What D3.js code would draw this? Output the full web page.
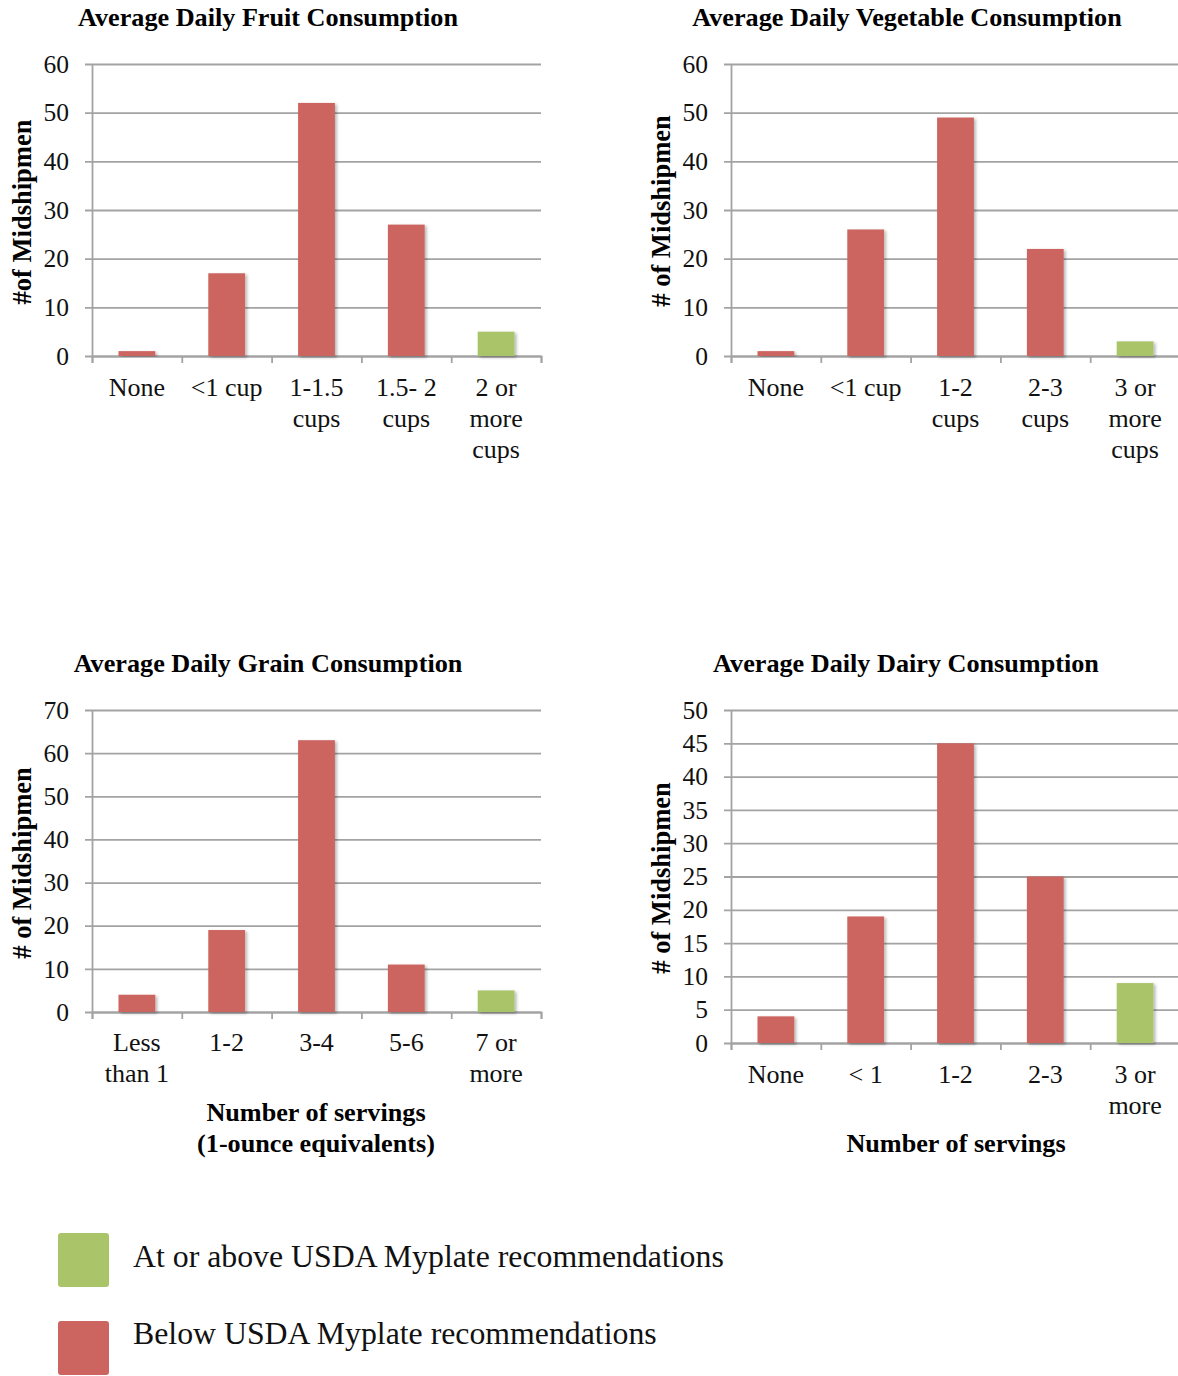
<!DOCTYPE html>
<html>
<head>
<meta charset="utf-8">
<script src="https://cdn.jsdelivr.net/npm/d3@7"></script>
<style>
  html, body { margin: 0; padding: 0; background: #fff; }
  svg { display: block; }
</style>
</head>
<body>
<svg id="chart" width="1178" height="1376"></svg>
<script>
// ---- data ----
const fruitCategories = ["None", "<1 cup", "1-1.5\ncups", "1.5- 2\ncups", "2 or\nmore\ncups"];
const fruitValues = [1, 17, 52, 27, 5];
const fruitStatus = ["below", "below", "below", "below", "meets"];
const fruitTicks = [0, 10, 20, 30, 40, 50, 60];

const vegCategories = ["None", "<1 cup", "1-2\ncups", "2-3\ncups", "3 or\nmore\ncups"];
const vegValues = [1, 26, 49, 22, 3];
const vegStatus = ["below", "below", "below", "below", "meets"];
const vegTicks = [0, 10, 20, 30, 40, 50, 60];

const grainCategories = ["Less\nthan 1", "1-2", "3-4", "5-6", "7 or\nmore"];
const grainValues = [4, 19, 63, 11, 5];
const grainStatus = ["below", "below", "below", "below", "meets"];
const grainTicks = [0, 10, 20, 30, 40, 50, 60, 70];

const dairyCategories = ["None", "< 1", "1-2", "2-3", "3 or\nmore"];
const dairyValues = [4, 19, 45, 25, 9];
const dairyStatus = ["below", "below", "below", "below", "meets"];
const dairyTicks = [0, 5, 10, 15, 20, 25, 30, 35, 40, 45, 50];

const legendStatus = ["meets", "below"];
const legendLabels = ["At or above USDA Myplate recommendations", "Below USDA Myplate recommendations"];

// ---- styles ----
const FONT = "'Liberation Serif', 'Times New Roman', Times, serif";
const COLORS = { meets: "#AAC46A", below: "#CC6560" };
const GRID = "#A3A3A3";
const LINE_H = 31;
const TICK_SIZE = 25.5;
const CAT_SIZE = 26;
const BOLD_SIZE = 26.2;

const svg = d3.select("#chart");

const defs = svg.append("defs");
const shadow = defs.append("filter").attr("id", "barShadow")
  .attr("x", "-20%").attr("y", "-10%").attr("width", "150%").attr("height", "130%");
shadow.append("feDropShadow")
  .attr("dx", 2).attr("dy", 1.5).attr("stdDeviation", 1.6)
  .attr("flood-color", "#000").attr("flood-opacity", 0.28);

const panels = [
  { title: "Average Daily Fruit Consumption", yLabel: "#of Midshipmen",
    cats: fruitCategories, values: fruitValues, status: fruitStatus, ticks: fruitTicks,
    left: 92, right: 541, top: 64, bottom: 356,
    titleX: 268, titleY: 17, yLabelX: 22, yLabelY: 212, catY: 387, xTitle: [] , xTitleY: 0, xTitleX: 0 },
  { title: "Average Daily Vegetable Consumption", yLabel: "# of Midshipmen",
    cats: vegCategories, values: vegValues, status: vegStatus, ticks: vegTicks,
    left: 731, right: 1180, top: 64, bottom: 356,
    titleX: 907, titleY: 17, yLabelX: 661, yLabelY: 211, catY: 387, xTitle: [], xTitleY: 0, xTitleX: 0 },
  { title: "Average Daily Grain Consumption", yLabel: "# of Midshipmen",
    cats: grainCategories, values: grainValues, status: grainStatus, ticks: grainTicks,
    left: 92, right: 541, top: 710, bottom: 1012,
    titleX: 268, titleY: 663, yLabelX: 22, yLabelY: 863, catY: 1042,
    xTitle: ["Number of servings", "(1-ounce equivalents)"], xTitleY: 1112, xTitleX: 316 },
  { title: "Average Daily Dairy Consumption", yLabel: "# of Midshipmen",
    cats: dairyCategories, values: dairyValues, status: dairyStatus, ticks: dairyTicks,
    left: 731, right: 1180, top: 710, bottom: 1043,
    titleX: 906, titleY: 663, yLabelX: 661, yLabelY: 878, catY: 1074,
    xTitle: ["Number of servings"], xTitleY: 1143, xTitleX: 956 }
];

function drawPanel(p) {
  const g = svg.append("g");
  const n = p.cats.length;

  const y = d3.scaleLinear().domain([0, d3.max(p.ticks)]).range([p.bottom, p.top]);
  const x = d3.scaleBand().domain(p.cats).range([p.left, p.right])
    .paddingInner(0.59).paddingOuter(0.295);
  const edges = d3.scaleLinear().domain([0, n]).range([p.left, p.right]);

  // horizontal gridlines, vertical axis line and value labels
  const yAxis = d3.axisLeft(y).tickValues(p.ticks)
    .tickSizeInner(-(p.right - p.left)).tickSizeOuter(0)
    .tickPadding(23).tickFormat(d3.format("d"));
  const ya = g.append("g").attr("transform", `translate(${p.left},0)`).call(yAxis)
    .attr("font-family", FONT).attr("font-size", TICK_SIZE);
  ya.select(".domain").attr("stroke", GRID).attr("stroke-width", 1.8);
  ya.selectAll(".tick line").attr("x1", -7).attr("stroke", GRID).attr("stroke-width", 1.8);
  ya.selectAll(".tick text").attr("fill", "#111");

  // category boundary ticks along the base line
  const xb = d3.axisBottom(edges).tickValues(d3.range(n + 1)).tickSize(7).tickSizeOuter(7).tickFormat("");
  const xbg = g.append("g").attr("transform", `translate(0,${p.bottom})`).call(xb);
  xbg.select(".domain").attr("stroke", GRID).attr("stroke-width", 1.8);
  xbg.selectAll(".tick line").attr("stroke", GRID).attr("stroke-width", 1.8);

  // bars
  g.append("g").selectAll("rect")
    .data(p.values)
    .join("rect")
    .attr("x", (d, i) => x(p.cats[i]))
    .attr("y", d => y(d))
    .attr("width", x.bandwidth())
    .attr("height", d => y(0) - y(d))
    .attr("fill", (d, i) => COLORS[p.status[i]])
    .attr("filter", "url(#barShadow)");

  // category labels (multi-line)
  const xAxis = d3.axisBottom(x).tickSize(0).tickSizeOuter(0);
  const xa = g.append("g").attr("transform", `translate(0,${p.bottom})`).call(xAxis)
    .attr("font-family", FONT).attr("font-size", CAT_SIZE);
  xa.select(".domain").remove();
  xa.selectAll(".tick text").each(function (d) {
    const t = d3.select(this).attr("y", null).attr("dy", null).attr("fill", "#111").text(null);
    d.split("\n").forEach((line, i) => {
      t.append("tspan").attr("x", 0)
        .attr("y", p.catY - p.bottom + i * LINE_H)
        .attr("dy", "0.35em").text(line);
    });
  });

  // chart title
  g.append("text").attr("x", p.titleX).attr("y", p.titleY).attr("dy", "0.33em")
    .attr("text-anchor", "middle").attr("font-family", FONT)
    .attr("font-size", BOLD_SIZE).attr("font-weight", "bold").attr("fill", "#000")
    .text(p.title);

  // y axis title
  g.append("text")
    .attr("transform", `translate(${p.yLabelX},${p.yLabelY}) rotate(-90)`)
    .attr("dy", "0.35em").attr("text-anchor", "middle").attr("font-family", FONT)
    .attr("font-size", 26.5).attr("font-weight", "bold").attr("fill", "#000")
    .text(p.yLabel);

  // x axis title
  p.xTitle.forEach((line, i) => {
    g.append("text").attr("x", p.xTitleX).attr("y", p.xTitleY + i * LINE_H).attr("dy", "0.35em")
      .attr("text-anchor", "middle").attr("font-family", FONT)
      .attr("font-size", BOLD_SIZE).attr("font-weight", "bold").attr("fill", "#000")
      .text(line);
  });
}

panels.forEach(drawPanel);

// legend: swatches and their labels
const legendSwatchY = [1233, 1321];
const legendTextY = [1256, 1333];
const legend = svg.append("g");
legend.selectAll("rect").data(legendLabels).join("rect")
  .attr("x", 58).attr("y", (d, i) => legendSwatchY[i])
  .attr("width", 51).attr("height", 54).attr("rx", 3)
  .attr("fill", (d, i) => COLORS[legendStatus[i]]);
legend.selectAll("text").data(legendLabels).join("text")
  .attr("x", 133).attr("y", (d, i) => legendTextY[i]).attr("dy", "0.35em")
  .attr("font-family", FONT).attr("font-size", 31.8).attr("fill", "#111")
  .text(d => d);
</script>
</body>
</html>
